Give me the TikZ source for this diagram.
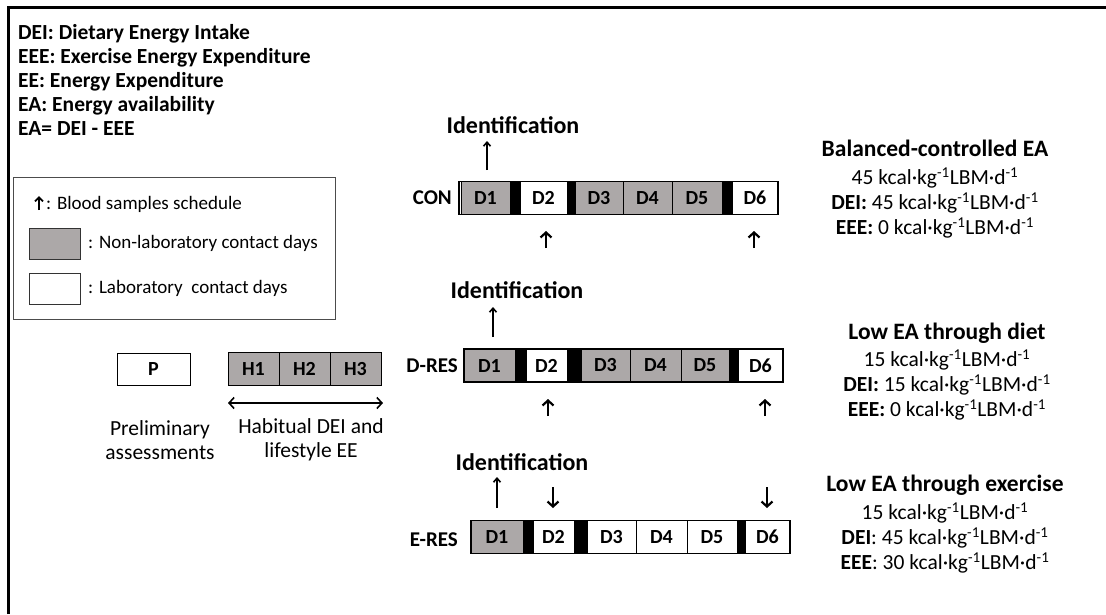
\documentclass[tikz,border=0pt]{standalone}
\usepackage{fontspec}
\setmainfont{Carlito}
\usetikzlibrary{arrows.meta}
\definecolor{cellgray}{RGB}{172,168,168}
\tikzset{
  daycell/.style={draw=black,line width=1pt,minimum height=33pt,inner sep=0pt,font=\bfseries\fontsize{20}{24}\selectfont},
  blackbar/.style={fill=black,draw=none,minimum height=33pt,inner sep=0pt},
  rowlabel/.style={font=\bfseries\fontsize{21}{24}\selectfont,anchor=east,inner sep=0pt},
  idtext/.style={font=\bfseries\fontsize{24}{28}\selectfont,inner sep=0pt},
  blood/.style={line width=2.2pt,-{Straight Barb[length=5pt,width=11pt,line width=2.2pt]}},
  idarrow/.style={line width=1.6pt,-{Straight Barb[length=4pt,width=7pt,line width=1.6pt]}},
  infotext/.style={align=center,inner sep=0pt,font=\fontsize{21.5}{25}\selectfont},
  legtext/.style={anchor=west,inner sep=0pt,font=\fontsize{19}{22}\selectfont},
  frame/.style={line width=3pt}
}
\newcommand\ttl{\bfseries\fontsize{23.5}{27}\selectfont}
\newcommand\dcell[6]{\node[daycell,fill=#5,minimum width={(#3-#2)*1pt}] (#1) at ({(#2+#3)/2},#4) {#6};}
\newcommand\dbar[4]{\node[blackbar,minimum width={(#3-#2)*1pt}] (#1) at ({(#2+#3)/2},#4) {};}
\newcommand\unitstr{kcal·kg\textsuperscript{-1}LBM·d\textsuperscript{-1}}
\begin{document}
\begin{tikzpicture}[x=1pt,y=-1pt]
\useasboundingbox (0,0) rectangle (1106,614);
% frame
\draw[frame] (8,614) coordinate (fb) -- (8,7) coordinate (fc) -- (1106,7) coordinate (fr);
% abbreviations
\node[anchor=north west,align=left,inner sep=0pt,font=\bfseries\fontsize{21.5}{24}\selectfont] (abbr) at (18,24)
  {DEI: Dietary Energy Intake\\EEE: Exercise Energy Expenditure\\EE: Energy Expenditure\\EA: Energy availability\\EA= DEI - EEE};
% legend
\draw[line width=0.8pt,draw=black!70] (13,177) rectangle (335,319);
\coordinate (lgA1) at (39,210);
\coordinate (lgA2) at (39,196);
\draw[line width=1.8pt,-{Straight Barb[length=4pt,width=8pt,line width=1.8pt]}] (lgA1) -- (lgA2);
\node[legtext] (lg1) at (46,204) {: Blood samples schedule};
\node[draw=black!80,line width=1pt,fill=cellgray,minimum width=51pt,minimum height=31pt,inner sep=0pt] (lgG) at (55,243.5) {};
\node[legtext] (lg2) at (88,243.5) {: Non-laboratory contact days};
\node[draw=black!80,line width=1pt,fill=white,minimum width=51pt,minimum height=31pt,inner sep=0pt] (lgW) at (55,288.5) {};
\node[legtext] (lg3) at (88,288.5) {: Laboratory\ \ contact days};
% preliminary and habitual
\node[daycell,fill=white,minimum width=73pt,minimum height=32pt] (P) at (153.5,369) {P};
\dcell{H1}{228}{279}{369}{cellgray}{H1}
\dcell{H2}{279}{330}{369}{cellgray}{H2}
\dcell{H3}{330}{381}{369}{cellgray}{H3}
\coordinate (hdL) at (228,403);
\coordinate (hdR) at (383,403);
\draw[line width=1.6pt,{Straight Barb[length=5pt,width=11pt,line width=1.6pt]}-{Straight Barb[length=5pt,width=11pt,line width=1.6pt]}] (hdL) -- (hdR);
\node[infotext,font=\fontsize{21.5}{24}\selectfont] (prel) at (160,440) {Preliminary\\assessments};
\node[infotext,font=\fontsize{21.5}{24}\selectfont] (habit) at (311,440) {Habitual DEI and\\lifestyle EE};
% CON row
\node[rowlabel] (conl) at (452,198) {CON};
\dcell{c1}{461}{510}{198}{cellgray}{D1}
\dbar{cb1}{510}{520}{198}
\dcell{c2}{520}{567}{198}{white}{D2}
\dbar{cb2}{567}{575}{198}
\dcell{c3}{575}{623}{198}{cellgray}{D3}
\dcell{c4}{623}{672}{198}{cellgray}{D4}
\dcell{c5}{672}{722}{198}{cellgray}{D5}
\dbar{cb3}{722}{732}{198}
\dcell{c6}{732}{778}{198}{white}{D6}
\draw[line width=1.6pt] (459,181.5) rectangle (778,214.5);
\node[idtext] (cid) at (513,125) {Identification};
\coordinate (ca1) at (487,170);
\coordinate (ca2) at (487,141);
\draw[idarrow] (ca1) -- (ca2);
\coordinate (cb2a) at (546,248); \coordinate (cb2b) at (546,231);
\draw[blood] (cb2a) -- (cb2b);
\coordinate (cb6a) at (754,248); \coordinate (cb6b) at (754,231);
\draw[blood] (cb6a) -- (cb6b);
% D-RES row
\node[rowlabel] (drl) at (458,366) {D-RES};
\dcell{d1}{464}{515}{365.5}{cellgray}{D1}
\dbar{db1}{515}{526}{365.5}
\dcell{d2}{526}{567}{365.5}{white}{D2}
\dbar{db2}{567}{581}{365.5}
\dcell{d3}{581}{630}{365.5}{cellgray}{D3}
\dcell{d4}{630}{681}{365.5}{cellgray}{D4}
\dcell{d5}{681}{729}{365.5}{cellgray}{D5}
\dbar{db3}{729}{738}{365.5}
\dcell{d6}{738}{783}{365.5}{white}{D6}
\draw[line width=1.6pt] (464,349) rectangle (783,382);
\node[idtext] (did) at (517,290) {Identification};
\coordinate (da1) at (493,337);
\coordinate (da2) at (493,307);
\draw[idarrow] (da1) -- (da2);
\coordinate (db2a) at (548,416); \coordinate (db2b) at (548,399);
\draw[blood] (db2a) -- (db2b);
\coordinate (db6a) at (765,416); \coordinate (db6b) at (765,399);
\draw[blood] (db6a) -- (db6b);
% E-RES row
\node[rowlabel] (erl) at (458,540) {E-RES};
\dcell{e1}{471}{523}{537}{cellgray}{D1}
\dbar{eb1}{523}{533}{537}
\dcell{e2}{533}{574}{537}{white}{D2}
\dbar{eb2}{574}{587}{537}
\dcell{e3}{587}{636}{537}{white}{D3}
\dcell{e4}{636}{687}{537}{white}{D4}
\dcell{e5}{687}{737}{537}{white}{D5}
\dbar{eb3}{737}{745}{537}
\dcell{e6}{745}{790}{537}{white}{D6}
\draw[line width=1.6pt] (471,520.5) rectangle (790,553.5);
\node[idtext] (eid) at (522,462) {Identification};
\coordinate (ea1) at (497,508);
\coordinate (ea2) at (497,477);
\draw[idarrow] (ea1) -- (ea2);
\coordinate (eb2a) at (553,487); \coordinate (eb2b) at (553,508);
\draw[blood] (eb2a) -- (eb2b);
\coordinate (eb6a) at (767,487); \coordinate (eb6b) at (767,508);
\draw[blood] (eb6a) -- (eb6b);
% right-hand info
\node[infotext,anchor=north] (conInfo) at (935,140)
  {{\ttl Balanced-controlled EA}\\[3pt]
   45 \unitstr\\
   \textbf{DEI:} 45 \unitstr\\
   \textbf{EEE:} 0 \unitstr};
\node[infotext,anchor=north] (dInfo) at (947,323)
  {{\ttl Low EA through diet}\\[2pt]
   15 \unitstr\\
   \textbf{DEI:} 15 \unitstr\\
   \textbf{EEE:} 0 \unitstr};
\node[infotext,anchor=north] (eInfo) at (945,475)
  {{\ttl Low EA through exercise}\\[3pt]
   15 \unitstr\\
   \textbf{DEI}: 45 \unitstr\\
   \textbf{EEE}: 30 \unitstr};
\end{tikzpicture}
\end{document}
